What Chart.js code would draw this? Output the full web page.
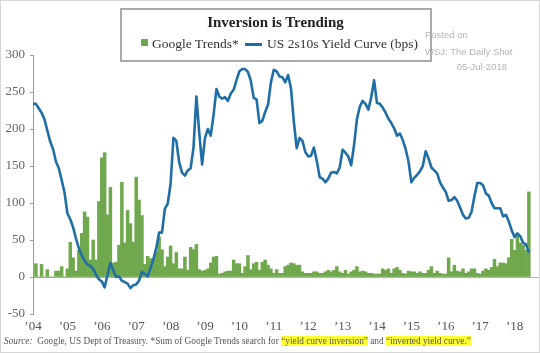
<!DOCTYPE html>
<html>
<head>
<meta charset="utf-8">
<script src="https://cdn.jsdelivr.net/npm/chart.js@4/dist/chart.umd.min.js"></script>
<style>
  html, body { margin: 0; padding: 0; background: #fff; }
  #wrap { position: relative; width: 540px; height: 353px; overflow: hidden; }
  #chart { position: absolute; left: 0; top: 0; }
  .frame { position: absolute; left: 0; top: 0; width: 540px; height: 353px; box-sizing: border-box; border: 1px solid #d6d6d6; }
  .box { position: absolute; left: 120px; top: 8px; width: 312px; height: 54px; box-sizing: border-box; border: 2px solid #a9a9a9; }
  .serif { font-family: "Liberation Serif", serif; }
  .sans { font-family: "Liberation Sans", sans-serif; }
  .t { position: absolute; white-space: nowrap; }
  .swatch { position: absolute; left: 141px; top: 39px; width: 7px; height: 7px; background: #6fa64c; }
  .lline { position: absolute; left: 245px; top: 43px; width: 17px; height: 2.5px; background: #1f6fa6; }
  .hl { background: #ffff33; }
</style>
</head>
<body>
<div id="wrap">
  <canvas id="chart" width="540" height="353"></canvas>
  <div class="frame"></div>
  <div class="box"></div>
  <div class="t serif" style="left:0;width:551px;text-align:center;top:15px;font-size:15px;line-height:15px;font-weight:bold;color:#222;">Inversion is Trending</div>
  <div class="swatch"></div>
  <div class="t serif" style="left:152px;top:37px;font-size:13.5px;line-height:13.5px;color:#333;">Google Trends*</div>
  <div class="lline"></div>
  <div class="t serif" style="left:267px;top:37px;font-size:13.5px;line-height:13.5px;color:#333;">US 2s10s Yield Curve (bps)</div>
  <div class="t sans" style="left:425px;top:30px;font-size:9.5px;line-height:9.5px;color:#b4b4b4;">Posted on</div>
  <div class="t sans" style="left:425px;top:47px;font-size:9.5px;line-height:9.5px;color:#b4b4b4;">WSJ: The Daily Shot</div>
  <div class="t sans" style="right:33px;top:62px;font-size:9.5px;line-height:9.5px;color:#b4b4b4;">05-Jul-2018</div>
  <div class="t serif" style="left:4px;top:337px;font-size:9.3px;line-height:9.3px;color:#555;"><i>Source:</i>&nbsp; Google, US Dept of Treasury. *Sum of Google Trends search for <span class="hl">“yield curve inversion”</span> and <span class="hl">“inverted yield curve.”</span></div>
</div>

<script>
// ==============================
// DATA (monthly, Jan 2004 - Jun 2018)
// ==============================
const startYear = 2004;

// US 2s10s yield curve, bps
const yieldCurve = [
  234, 234, 228, 222, 213, 198, 183, 173, 156, 147, 131, 114,
  86, 78, 67, 52, 39, 29, 22, 17, 15, 11, 3, -3,
  -6, -14, 3, 19, 9, 0, 1, -5, -7, -9, -15, -11,
  -10, -5, 7, 4, 1, 12, 24, 39, 60, 60, 92, 99,
  126, 188, 184, 155, 141, 137, 144, 147, 175, 244, 195, 152,
  188, 200, 191, 219, 254, 244, 241, 243, 238, 248, 253, 266,
  278, 281, 281, 277, 265, 242, 240, 208, 211, 223, 233, 263,
  280, 278, 271, 270, 263, 273, 255, 210, 174, 188, 184, 169,
  163, 164, 175, 157, 135, 133, 128, 133, 141, 142, 140, 148,
  172, 168, 163, 151, 178, 213, 230, 238, 234, 226, 243, 266,
  235, 234, 229, 222, 214, 208, 201, 191, 194, 185, 173, 156,
  128, 134, 138, 143, 150, 170, 160, 148, 144, 140, 128, 121,
  115, 103, 104, 108, 103, 94, 84, 79, 80, 88, 109, 127,
  127, 124, 113, 110, 100, 93, 93, 93, 82, 84, 75, 63,
  54, 59, 55, 46, 44, 33
];

// Google Trends (sum of both searches)
const googleTrends = [
  0, 18, 0, 17, 0, 10, 0, 0, 8, 8, 14, 0,
  11, 47, 26, 8, 36, 59, 88, 81, 23, 50, 23, 102,
  161, 168, 84, 121, 19, 20, 43, 128, 46, 90, 72, 47,
  135, 104, 83, 17, 28, 25, 24, 34, 54, 37, 14, 27,
  42, 18, 33, 11, 11, 27, 9, 40, 37, 44, 10, 8,
  9, 11, 19, 27, 28, 4, 5, 7, 8, 8, 23, 18,
  18, 5, 14, 29, 10, 18, 20, 9, 20, 23, 16, 11,
  5, 10, 5, 5, 14, 16, 19, 18, 16, 16, 7, 5,
  5, 5, 7, 7, 5, 5, 7, 9, 7, 9, 14, 7,
  5, 9, 4, 7, 9, 14, 7, 8, 7, 5, 5, 4,
  4, 4, 11, 9, 11, 5, 11, 13, 9, 5, 4, 8,
  7, 7, 5, 7, 5, 5, 9, 14, 5, 8, 5, 4,
  4, 26, 7, 16, 8, 7, 11, 5, 7, 11, 11, 5,
  4, 8, 11, 9, 13, 24, 14, 19, 19, 18, 26, 51,
  36, 57, 46, 43, 36, 115
];

// x axis tick labels ('04 ... '18)
const tickYears = [2004, 2005, 2006, 2007, 2008, 2009, 2010, 2011, 2012, 2013, 2014, 2015, 2016, 2017, 2018];
const yTickMin = -50;
const yTickMax = 300;
const yTickStep = 50;

// month positions on a year scale
const monthX = yieldCurve.map((_, i) => startYear + i / 12);

// ==============================
// CHART
// ==============================
const serif = "'Liberation Serif', serif";

new Chart(document.getElementById("chart"), {
  type: "bar",
  data: {
    datasets: [
      {
        type: "line",
        label: "US 2s10s Yield Curve (bps)",
        data: yieldCurve.map((v, i) => ({ x: monthX[i], y: v })),
        borderColor: "#1f6fa6",
        borderWidth: 2.6,
        pointRadius: 0,
        tension: 0,
        borderJoinStyle: "round",
        order: 0
      },
      {
        type: "bar",
        label: "Google Trends*",
        data: googleTrends.map((v, i) => ({ x: monthX[i], y: v })),
        backgroundColor: "#70a84e",
        borderWidth: 0,
        barPercentage: 1,
        categoryPercentage: 1,
        order: 1
      }
    ]
  },
  options: {
    responsive: false,
    animation: false,
    devicePixelRatio: 1,
    layout: { padding: { top: 55, right: 0, bottom: 19, left: 0 } },
    plugins: {
      legend: { display: false },
      title: { display: false },
      tooltip: { enabled: false }
    },
    scales: {
      x: {
        type: "linear",
        min: startYear,
        max: 2018.74,
        offset: false,
        grid: { display: false, drawTicks: false },
        border: { display: false },
        afterBuildTicks: s => { s.ticks = tickYears.map(v => ({ value: v })); },
        afterFit: s => { s.height = 20; },
        ticks: {
          autoSkip: false,
          maxRotation: 0,
          padding: 5,
          color: "#555",
          font: { family: serif, size: 13 },
          callback: v => "\u2019" + String(v).slice(2)
        }
      },
      y: {
        min: yTickMin,
        max: yTickMax,
        afterFit: s => { s.width = 33; },
        grid: {
          drawOnChartArea: true,
          color: c => (c.tick && c.tick.value === 0 ? "#b0b0b0" : "rgba(0,0,0,0)"),
          tickColor: "#9a9a9a",
          tickLength: 3
        },
        border: { display: true, color: "#9a9a9a", width: 1 },
        ticks: {
          stepSize: yTickStep,
          padding: 5,
          color: "#666",
          font: { family: serif, size: 13 }
        }
      }
    }
  }
});
</script>
</body>
</html>
